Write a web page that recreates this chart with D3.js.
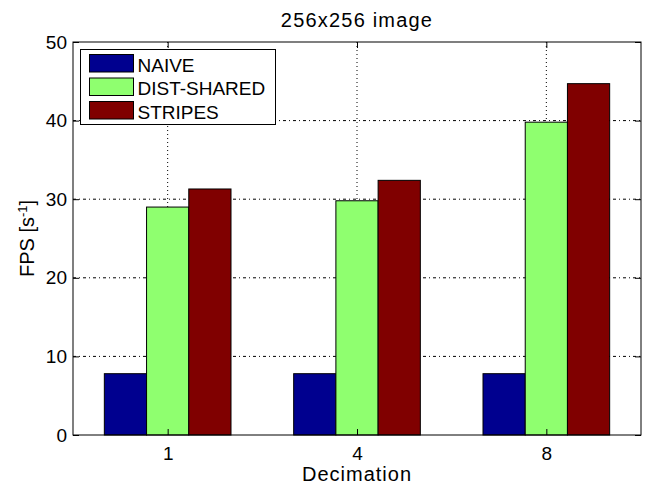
<!DOCTYPE html>
<html>
<head>
<meta charset="utf-8">
<script src="https://cdn.jsdelivr.net/npm/d3@7"></script>
<style>
body { margin: 0; background: #fff; }
svg { font-family: "Liberation Sans", Arial, sans-serif; }
</style>
</head>
<body>
<svg width="648" height="486"></svg>
<script>
var categories = ["1", "4", "8"];
var seriesNames = ["NAIVE", "DIST-SHARED", "STRIPES"];
var seriesColors = ["#00008f", "#8fff6f", "#800000"];
var naive = [7.8, 7.8, 7.8];
var distShared = [29.0, 29.8, 39.8];
var stripes = [31.3, 32.4, 44.7];
var yTicks = [0, 10, 20, 30, 40, 50];

var svg = d3.select("svg"),
	margin = {left: 73, right: 7, top: 42, bottom: 51},
	width = +svg.attr("width") - margin.left - margin.right,
	height = +svg.attr("height") - margin.top - margin.bottom;

var series = [naive, distShared, stripes];

var x = d3.scaleLinear().domain([0.5, categories.length + 0.5]).range([0, width]);
var y = d3.scaleLinear().domain([0, 50]).range([height, 0]);
var barW = (x(2) - x(1)) * 0.223;

var g = svg.append("g").attr("transform", "translate(" + margin.left + "," + margin.top + ")");

// grid
g.append("g").selectAll("line")
	.data(yTicks.slice(1, -1))
	.enter().append("line")
	.attr("x1", 0).attr("x2", width)
	.attr("y1", function(d) { return y(d); })
	.attr("y2", function(d) { return y(d); })
	.attr("stroke", "#000")
	.attr("stroke-width", 1)
	.attr("stroke-dasharray", "3,3,1,3");

g.append("g").selectAll("line")
	.data(categories)
	.enter().append("line")
	.attr("x1", function(d, i) { return x(i + 1); })
	.attr("x2", function(d, i) { return x(i + 1); })
	.attr("y1", 0).attr("y2", height)
	.attr("stroke", "#000")
	.attr("stroke-width", 1)
	.attr("stroke-dasharray", "1,3");

// bars
series.forEach(function(vals, s) {
	g.append("g").selectAll("rect")
		.data(vals)
		.enter().append("rect")
		.attr("x", function(d, i) { return x(i + 1) + (s - 1.5) * barW; })
		.attr("width", barW)
		.attr("y", function(d) { return y(d); })
		.attr("height", function(d) { return height - y(d); })
		.attr("fill", seriesColors[s])
		.attr("stroke", "#000")
		.attr("stroke-width", 1);
});

// frame
g.append("rect")
	.attr("width", width).attr("height", height)
	.attr("fill", "none").attr("stroke", "#000").attr("stroke-width", 1);

// axes
var yAxis = d3.axisLeft(y).tickValues(yTicks).tickSizeInner(-6).tickSizeOuter(0).tickPadding(6);
var yAxisR = d3.axisRight(y).tickValues(yTicks).tickSizeInner(-6).tickSizeOuter(0).tickFormat("");
var xAxis = d3.axisBottom(x).tickValues([1, 2, 3]).tickSizeInner(-6).tickSizeOuter(0).tickPadding(12)
	.tickFormat(function(d) { return categories[d - 1]; });
var xAxisT = d3.axisTop(x).tickValues([1, 2, 3]).tickSizeInner(-6).tickSizeOuter(0).tickFormat("");

g.append("g").call(yAxis);
g.append("g").attr("transform", "translate(" + width + ",0)").call(yAxisR);
g.append("g").attr("transform", "translate(0," + height + ")").call(xAxis);
g.append("g").call(xAxisT);

g.selectAll(".domain").remove();
g.selectAll(".tick line").attr("stroke", "#000");
g.selectAll(".tick text").attr("font-size", 19).attr("fill", "#000")
	.attr("font-family", "Liberation Sans, Arial, sans-serif");

// legend
var legend = g.append("g").attr("transform", "translate(7.5,7.5)");
legend.append("rect")
	.attr("width", 195).attr("height", 75)
	.attr("fill", "#fff").attr("stroke", "#000").attr("stroke-width", 1);
seriesNames.forEach(function(name, i) {
	legend.append("rect")
		.attr("x", 9).attr("y", 5 + i * 23.5)
		.attr("width", 44).attr("height", 17.5)
		.attr("fill", seriesColors[i]).attr("stroke", "#000");
	legend.append("text")
		.attr("x", 57).attr("y", 22 + i * 23.5)
		.attr("font-size", 19)
		.text(name);
});

// labels
svg.append("text")
	.attr("x", margin.left + width / 2).attr("y", 27)
	.attr("text-anchor", "middle").attr("font-size", 20)
	.attr("letter-spacing", 1.2)
	.text("256x256 image");

svg.append("text")
	.attr("x", margin.left + width / 2).attr("y", 481)
	.attr("text-anchor", "middle").attr("font-size", 20)
	.attr("letter-spacing", 1)
	.text("Decimation");

var ylab = svg.append("text")
	.attr("transform", "translate(34," + (margin.top + height / 2) + ") rotate(-90)")
	.attr("text-anchor", "middle").attr("font-size", 20);
ylab.append("tspan").text("FPS [s");
ylab.append("tspan").attr("baseline-shift", "super").attr("font-size", 13).text("-1");
ylab.append("tspan").text("]");
</script>
</body>
</html>
